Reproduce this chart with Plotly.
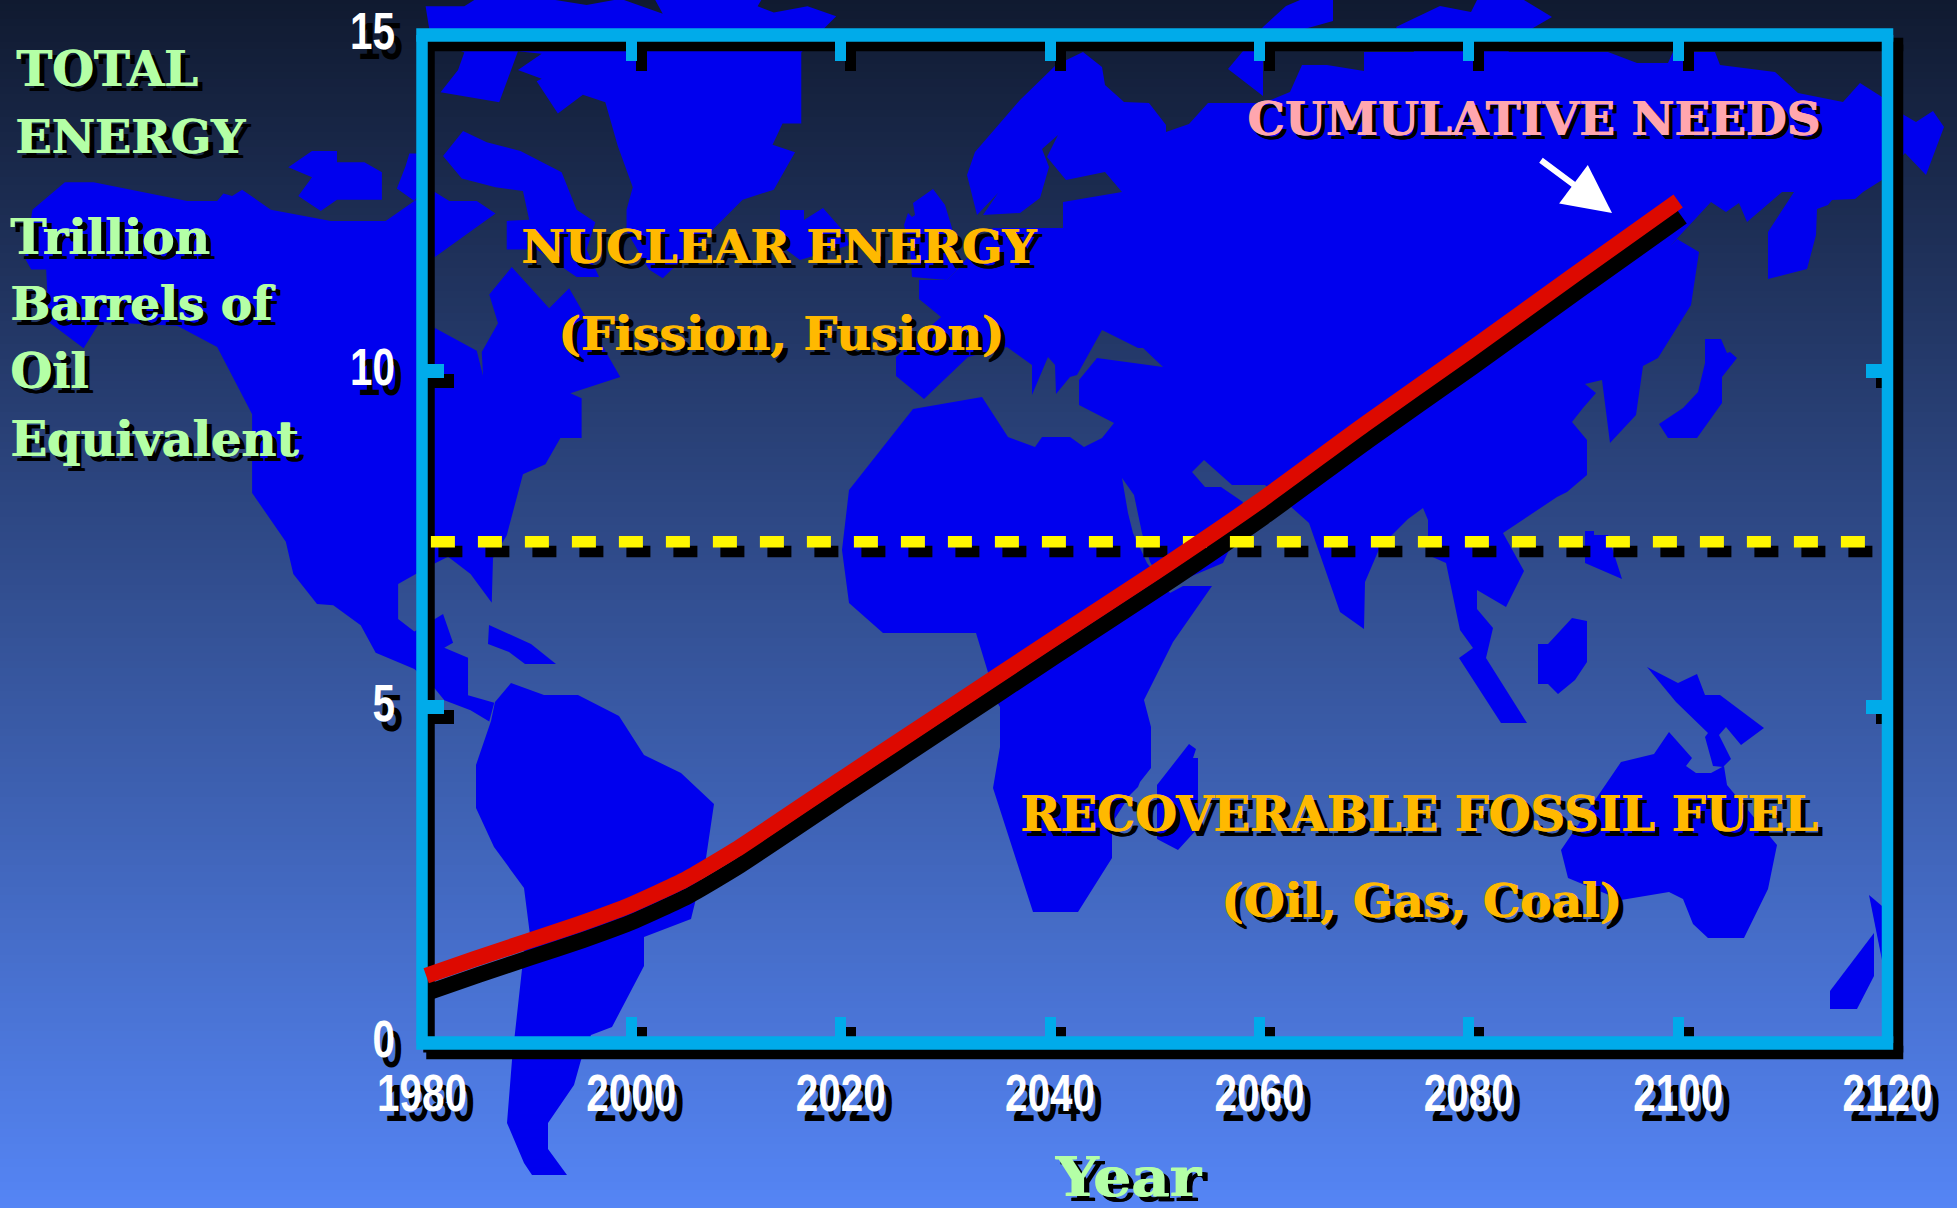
import plotly.graph_objects as go

# Energy curve and fossil reserve level
YEARS = [1980.4, 1985, 1990, 1995, 2000, 2005, 2010, 2020, 2030, 2040, 2050, 2060, 2070, 2080, 2090, 2100]
CUMULATIVE_NEEDS = [1.0, 1.25, 1.51, 1.77, 2.06, 2.42, 2.88, 3.92, 4.95, 5.98, 7.0, 8.06, 9.2, 10.3, 11.42, 12.53]
RESERVE_YEARS = [1980.85, 2118.2]
RECOVERABLE_FOSSIL = [7.46, 7.46]
X_TICKS = [1980, 2000, 2020, 2040, 2060, 2080, 2100, 2120]
Y_TICKS = [0, 5, 10, 15]

W, H = 1957, 1208
PLOT_L, PLOT_R, PLOT_T, PLOT_B = 422.0, 1887.5, 35.0, 1043.0

BG_TOP, BG_BOTTOM = "#101a30", "#5585f5"
LAND = "#0000ee"
CYAN = "#00abea"
RED = "#dd0900"
YELLOW = "#fff700"
ORANGE = "#ffb900"
PINK = "#ffa6ae"
GREEN = "#b4ffa6"
SERIF = "DejaVu Serif"
SANS = "Liberation Sans"

# Continent outlines: the first group on a 1568-wide grid, the rest in canvas pixels
GRID_SCALE = W / 1568
GRID_OUTLINES = [
    # North America
    [(52, 146), (75, 146), (150, 161), (174, 161), (179, 155), (186, 157), (194, 152), (217, 168),
     (265, 177), (309, 177), (332, 161), (347, 153), (360, 161), (382, 161), (397, 171), (347, 207),
     (347, 262), (382, 281), (387, 301), (386, 282), (399, 259), (392, 236), (410, 214), (440, 247),
     (456, 231), (497, 302), (457, 315), (466, 319), (466, 351), (449, 351), (437, 372), (419, 380),
     (406, 429), (395, 447), (394, 483), (377, 460), (359, 446), (347, 452), (319, 468), (319, 496),
     (332, 506), (355, 492), (363, 515), (356, 519), (375, 527), (375, 557), (396, 563), (392, 578),
     (377, 569), (356, 561), (347, 550), (332, 536), (301, 523), (289, 501), (267, 485), (254, 484),
     (235, 460), (229, 434), (202, 395), (202, 332), (174, 278), (142, 261), (80, 258), (67, 279),
     (39, 258), (37, 216), (25, 216), (20, 207), (26, 168)],
    # Arctic islands
    [(231, 134), (250, 121), (270, 121), (270, 130), (292, 130), (306, 138), (306, 160), (270, 160),
     (257, 169), (239, 157), (250, 142)],
    [(328, 123), (325, 133), (318, 151), (332, 161), (340, 150), (340, 123)],
    [(371, 105), (390, 114), (417, 121), (450, 138), (462, 168), (477, 178), (470, 200), (480, 222),
     (462, 222), (430, 200), (406, 200), (406, 177), (424, 176), (419, 153), (397, 150), (370, 143),
     (355, 125)],
    # Greenland
    [(341, 5), (372, 5), (380, 0), (445, 0), (470, 4), (492, 0), (500, 0), (531, 11), (525, 0),
     (610, 0), (607, 5), (620, 10), (647, 5), (670, 13), (660, 23), (642, 42), (642, 99), (627, 99),
     (619, 116), (637, 122), (620, 152), (595, 160), (570, 185), (531, 223), (520, 216), (502, 185),
     (502, 168), (507, 150), (495, 117), (485, 82), (467, 76), (447, 91), (430, 65), (434, 63),
     (415, 56), (434, 43), (415, 41), (400, 82), (353, 74), (367, 56), (372, 42), (345, 30)],
]

PIXEL_OUTLINES = [
    # Eurasia and Africa
    [(967, 175), (975, 152), (1020, 100), (1056, 65), (1083, 52), (1102, 67), (1105, 85), (1124, 102),
     (1149, 103), (1166, 125), (1166, 132), (1189, 124), (1208, 103), (1263, 103), (1290, 92),
     (1302, 65), (1327, 65), (1364, 71), (1364, 52), (1608, 52), (1637, 63), (1668, 63), (1673, 52),
     (1715, 52), (1720, 65), (1775, 72), (1798, 93), (1843, 102), (1860, 83), (1882, 97), (1904, 115),
     (1916, 122), (1933, 111), (1944, 127), (1926, 175), (1905, 153), (1882, 180), (1863, 192),
     (1855, 199), (1832, 200), (1828, 205), (1817, 209), (1816, 235), (1807, 269), (1768, 279),
     (1768, 232), (1794, 192), (1782, 192), (1747, 222), (1739, 203), (1726, 212), (1711, 202),
     (1670, 246), (1677, 239), (1699, 252), (1691, 305), (1658, 358), (1643, 366), (1636, 415),
     (1610, 443), (1602, 380), (1585, 384), (1596, 393), (1583, 408), (1572, 422), (1587, 440),
     (1587, 475), (1567, 492), (1557, 497), (1503, 533), (1524, 571), (1506, 607), (1477, 590),
     (1477, 609), (1493, 628), (1486, 658), (1527, 723), (1501, 723), (1459, 658), (1473, 648),
     (1460, 630), (1446, 563), (1428, 555), (1428, 520), (1423, 508), (1408, 519), (1380, 547),
     (1365, 582), (1364, 629), (1340, 612), (1309, 523), (1290, 506), (1265, 485), (1232, 485),
     (1204, 460), (1192, 472), (1205, 487), (1221, 487), (1243, 502), (1230, 548), (1223, 563),
     (1173, 584), (1167, 590), (1150, 562), (1142, 533), (1134, 495), (1122, 478), (1128, 513),
     (1133, 533), (1147, 563), (1170, 593), (1183, 586), (1212, 586), (1173, 642), (1144, 700),
     (1151, 727), (1151, 768), (1140, 782), (1138, 787), (1130, 795), (1112, 823), (1112, 858),
     (1078, 912), (1033, 912), (993, 788), (1000, 747), (1000, 707), (997, 702), (976, 633),
     (883, 633), (849, 603), (842, 550), (849, 490), (897, 430), (913, 409), (982, 397), (1008, 437),
     (1035, 447), (1042, 437), (1070, 437), (1084, 447), (1102, 438), (1114, 423), (1079, 405),
     (1079, 380), (1097, 358), (1163, 367), (1143, 348), (1138, 348), (1102, 330), (1087, 357),
     (1077, 375), (1070, 377), (1056, 394), (1055, 365), (1048, 357), (1032, 395), (1032, 365),
     (1007, 347), (968, 357), (924, 399), (896, 376), (896, 357), (941, 317), (919, 299), (919, 280),
     (947, 280), (957, 270), (993, 228), (1063, 228), (1063, 202), (1122, 192), (1105, 172),
     (1066, 180), (1047, 157), (1058, 135), (1042, 149), (1049, 167), (1040, 198), (1020, 213),
     (983, 215), (998, 193), (977, 215)],
    # Iceland and Britain
    [(780, 210), (804, 210), (804, 220), (823, 208), (845, 233), (850, 245), (800, 260), (780, 245)],
    [(904, 225), (908, 213), (912, 217), (915, 215), (913, 203), (933, 189), (945, 205), (952, 228),
     (955, 263), (957, 270), (947, 280), (912, 277), (910, 247)],
    # Northern islands
    [(1228, 69), (1263, 27), (1286, 6), (1300, 0), (1333, 0), (1333, 21), (1308, 28), (1263, 40), (1263, 96)],
    [(1396, 27), (1440, 6), (1471, 12), (1477, 0), (1524, 0), (1552, 17), (1533, 28), (1500, 60), (1420, 60)],
    # South and Central America
    [(511, 683), (544, 695), (578, 695), (619, 716), (644, 755), (681, 773), (714, 804), (706, 858),
     (691, 919), (644, 937), (644, 966), (612, 1027), (591, 1035), (581, 1060), (574, 1085), (548, 1123),
     (548, 1149), (567, 1175), (532, 1175), (524, 1163), (507, 1123), (512, 1060), (524, 951), (530, 935),
     (524, 888), (494, 847), (476, 808), (476, 765), (491, 721), (495, 702)],
    [(489, 625), (531, 644), (556, 664), (525, 664), (509, 652), (488, 644)],
    # Madagascar and the Indonesian and Pacific islands
    [(1189, 744), (1196, 749), (1193, 758), (1198, 758), (1198, 828), (1178, 850), (1157, 839), (1157, 785)],
    [(1572, 618), (1587, 621), (1587, 662), (1575, 680), (1558, 694), (1548, 684), (1538, 684), (1538, 644), (1548, 644)],
    [(1585, 531), (1594, 531), (1594, 535), (1608, 535), (1622, 579), (1585, 563)],
    [(1705, 339), (1721, 339), (1727, 353), (1730, 352), (1737, 358), (1722, 377), (1722, 403), (1697, 438),
     (1668, 438), (1659, 424), (1683, 408), (1698, 392), (1705, 363)],
    [(1647, 667), (1678, 683), (1697, 674), (1705, 695), (1720, 695), (1764, 728), (1741, 745), (1726, 727),
     (1719, 735), (1731, 759), (1723, 767), (1713, 766), (1705, 737), (1708, 733), (1676, 702)],
    # Australia and New Zealand
    [(1669, 732), (1692, 758), (1686, 766), (1696, 773), (1711, 773), (1724, 766), (1727, 785), (1777, 845),
     (1768, 889), (1744, 938), (1708, 938), (1693, 924), (1683, 899), (1669, 892), (1621, 900), (1568, 878),
     (1561, 850), (1621, 762), (1654, 754)],
    [(1869, 895), (1882, 906), (1882, 960), (1876, 930)],
    [(1874, 933), (1874, 976), (1857, 1009), (1830, 1009), (1830, 991)],
]

# (text, x, centre y of the capitals, size, colour, anchor, shadow)
LABELS = [
    ("TOTAL", 16, 69, 48, GREEN, "left", 5),
    ("ENERGY", 15, 136, 47.5, GREEN, "left", 5),
    ("Trillion", 10, 237, 48.5, GREEN, "left", 5),
    ("Barrels of", 10, 304, 47, GREEN, "left", 5),
    ("Oil", 10, 371, 48, GREEN, "left", 5),
    ("Equivalent", 10, 439, 48, GREEN, "left", 5),
    ("NUCLEAR ENERGY", 779, 246, 47.5, ORANGE, "center", 5),
    ("(Fission, Fusion)", 781, 333, 47.5, ORANGE, "center", 5),
    ("RECOVERABLE FOSSIL FUEL", 1419, 814, 48, ORANGE, "center", 5),
    ("(Oil, Gas, Coal)", 1421, 900, 47, ORANGE, "center", 5),
    ("CUMULATIVE NEEDS", 1533, 118, 47, PINK, "center", 4),
    ("Year", 1128, 1176, 55, GREEN, "center", 5),
]

ARROW_START = (1538, 158)
ARROW_TIP = (1612, 213)
BG_BANDS = 160
DIGIT_WIDTH = 22.5
YEAR_WIDTH = 145

# Tick digits are condensed to a narrow face, and the axis title widened, once the page has drawn
ADJUST_TEXT = """
var adjustText = function () {
  document.querySelectorAll('.x6tick text, .y6tick text').forEach(function (t) {
    t.setAttribute('textLength', t.textContent.length * %s);
    t.setAttribute('lengthAdjust', 'spacingAndGlyphs');
  });
  document.querySelectorAll('.annotation-text').forEach(function (t) {
    if (t.textContent === 'Year') {
      t.setAttribute('textLength', %s);
      t.setAttribute('lengthAdjust', 'spacingAndGlyphs');
    }
  });
};
adjustText();
setTimeout(adjustText, 50);
setTimeout(adjustText, 300);
""" % (DIGIT_WIDTH, YEAR_WIDTH)


def domain(dx, dy):
    """Plot-area domains on the canvas, offset by (dx, dy) pixels."""
    return ([(PLOT_L + dx) / W, (PLOT_R + dx) / W],
            [1 - (PLOT_B + dy) / H, 1 - (PLOT_T + dy) / H])


def frame_traces(color, dx, dy, left_shift, xaxis, yaxis):
    """Border on a canvas-wide axis pair, so the bars straddle the plot edges unclipped."""
    left, right = PLOT_L + dx, PLOT_R + dx
    top, bottom = PLOT_T + dy, PLOT_B + dy
    common = dict(mode="lines", hoverinfo="skip", showlegend=False, xaxis=xaxis, yaxis=yaxis)
    return [
        go.Scatter(x=[left + left_shift, left + left_shift, None, right, right],
                   y=[top, bottom, None, top, bottom],
                   line=dict(width=11.5, color=color), **common),
        go.Scatter(x=[left - 5.75, right + 5.75, None, left - 5.75, right + 5.75],
                   y=[top, top, None, bottom, bottom],
                   line=dict(width=13.5, color=color), **common),
    ]


def text_shadow(color, offset):
    """A hairline copy thickens the strokes; the black copy is the drop shadow."""
    return f"1px 0px 0px {color}, {offset + 1}px {offset}px 0px #000, {offset}px {offset}px 0px #000"


fig = go.Figure()

# Canvas subplot: gradient backdrop and land masses
band_rows = list(range(BG_BANDS + 1))
fig.add_trace(go.Heatmap(
    x=[0, W], y=[r * H / BG_BANDS for r in band_rows], z=[[r, r] for r in band_rows],
    colorscale=[[0, BG_TOP], [1, BG_BOTTOM]], showscale=False, hoverinfo="skip",
    xaxis="x", yaxis="y"))
outlines = [[(x * GRID_SCALE, y * GRID_SCALE) for x, y in o] for o in GRID_OUTLINES] + PIXEL_OUTLINES
for outline in outlines:
    fig.add_trace(go.Scatter(
        x=[p[0] for p in outline] + [outline[0][0]],
        y=[p[1] for p in outline] + [outline[0][1]],
        mode="lines", fill="toself", fillcolor=LAND, line=dict(width=0, color=LAND),
        hoverinfo="skip", showlegend=False, xaxis="x", yaxis="y"))

# Drop shadows, each on a pair of axes offset from the main one
fig.add_traces(frame_traces("black", 10, 9.5, -3, "x", "y"))
# The tick-shadow axes need a trace of their own to be drawn
fig.add_trace(go.Scatter(x=X_TICKS[:2], y=Y_TICKS[:2], mode="none", hoverinfo="skip", showlegend=False,
                         xaxis="x2", yaxis="y2"))
fig.add_trace(go.Scatter(x=RESERVE_YEARS, y=RECOVERABLE_FOSSIL, mode="lines",
                         line=dict(color="black", width=11.5, dash="24px,23px"), cliponaxis=False,
                         hoverinfo="skip", showlegend=False, xaxis="x3", yaxis="y3"))
fig.add_trace(go.Scatter(x=YEARS, y=CUMULATIVE_NEEDS, mode="lines",
                         line=dict(color="black", width=16, shape="spline", smoothing=0.5), cliponaxis=False,
                         hoverinfo="skip", showlegend=False, xaxis="x4", yaxis="y4"))

# Border above the shadows, then the main marks
fig.add_traces(frame_traces(CYAN, 0, 0, 0, "x5", "y5"))
fig.add_trace(go.Scatter(x=RESERVE_YEARS, y=RECOVERABLE_FOSSIL, mode="lines",
                         line=dict(color=YELLOW, width=11.5, dash="24px,23px"), cliponaxis=False,
                         name="Recoverable fossil fuel", showlegend=False, xaxis="x6", yaxis="y6"))
fig.add_trace(go.Scatter(x=YEARS, y=CUMULATIVE_NEEDS, mode="lines",
                         line=dict(color=RED, width=16, shape="spline", smoothing=0.5), cliponaxis=False,
                         name="Cumulative needs", showlegend=False, xaxis="x6", yaxis="y6"))

hidden = dict(visible=False, showgrid=False, zeroline=False, automargin=False)
x_tick_style = dict(tickmode="array", tickvals=X_TICKS, ticks="inside", ticklen=26, tickwidth=11,
                    mirror="ticks", showgrid=False, zeroline=False, automargin=False, range=[1980, 2120])
y_tick_style = dict(tickmode="array", tickvals=Y_TICKS, ticks="inside", ticklen=22, tickwidth=13.5,
                    mirror="ticks", showgrid=False, zeroline=False, automargin=False, range=[0, 15])
tick_font = dict(family=SANS, size=52, color="white", weight=700, shadow="10px 10px 0px #000")

fd2x, fd2y = domain(10, 9.5)
fd3x, fd3y = domain(7.5, 9.8)
fd4x, fd4y = domain(4, 16)
fd6x, fd6y = domain(0, 0)

# Arrow pointing at the end of the curve
annotations = [dict(
    xref="paper", yref="paper", x=ARROW_TIP[0] / W, y=1 - ARROW_TIP[1] / H, text=" ",
    ax=ARROW_START[0] - ARROW_TIP[0], ay=ARROW_START[1] - ARROW_TIP[1],
    showarrow=True, arrowhead=2, arrowwidth=6, arrowsize=1.6, arrowcolor="white", standoff=0)]
for text, x, y, size, color, anchor, shadow in LABELS:
    annotations.append(dict(
        xref="paper", yref="paper", x=x / W, y=1 - y / H, text=text, showarrow=False,
        xanchor=anchor, yanchor="middle", borderpad=0, borderwidth=0,
        font=dict(family=SERIF, size=size, color=color, weight=700,
                  shadow=text_shadow(color, shadow))))

fig.update_layout(
    template="none",
    width=W, height=H, autosize=False, margin=dict(l=0, r=0, t=0, b=0, pad=0),
    showlegend=False, paper_bgcolor=BG_TOP, plot_bgcolor="rgba(0,0,0,0)",
    annotations=annotations,
    xaxis=dict(domain=[0, 1], range=[0, W], anchor="y", **hidden),
    yaxis=dict(domain=[0, 1], range=[H, 0], anchor="x", **hidden),
    xaxis2=dict(domain=fd2x, anchor="y2", tickcolor="black", showticklabels=False, **x_tick_style),
    yaxis2=dict(domain=fd2y, anchor="x2", tickcolor="black", showticklabels=False, **y_tick_style),
    xaxis3=dict(domain=fd3x, anchor="y3", range=[1980, 2120], **hidden),
    yaxis3=dict(domain=fd3y, anchor="x3", range=[0, 15], **hidden),
    xaxis4=dict(domain=fd4x, anchor="y4", range=[1980, 2120], **hidden),
    yaxis4=dict(domain=fd4y, anchor="x4", range=[0, 15], **hidden),
    xaxis5=dict(domain=[0, 1], range=[0, W], anchor="y5", **hidden),
    yaxis5=dict(domain=[0, 1], range=[H, 0], anchor="x5", **hidden),
    xaxis6=dict(domain=fd6x, anchor="y6", tickcolor=CYAN, tickfont=tick_font, ticklabelstandoff=15, **x_tick_style),
    yaxis6=dict(domain=fd6y, anchor="x6", tickcolor=CYAN, tickfont=tick_font, ticklabelstandoff=26, ticklabelshift=-4,
                **y_tick_style),
)

fig.write_html("out.html", post_script=ADJUST_TEXT)
